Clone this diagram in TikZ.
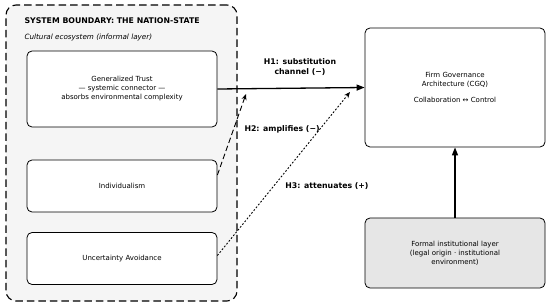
\documentclass[tikz,border=0pt]{standalone}
\usepackage{fontspec}
\setmainfont{DejaVu Sans}
\usetikzlibrary{positioning,arrows.meta,calc}
\definecolor{fondo}{RGB}{245,245,245}
\definecolor{formal}{RGB}{230,230,230}

\begin{document}
\begin{tikzpicture}[x=1pt, y=-1pt,
  caja/.style={draw, line width=0.8pt, rounded corners=5pt, fill=#1,
               align=center, font=\fontsize{7}{9}\selectfont},
  caja/.default=white,
  etiq/.style={font=\fontsize{7.8}{9.5}\selectfont\bfseries, align=center},
  flecha/.style={line width=1.3pt, -{Triangle[length=8pt, width=6pt]}}]
  \useasboundingbox (0,0) rectangle (550,305);
  \node[draw, dash pattern=on 7.5pt off 4pt, line width=1.1pt,
        rounded corners=10pt, fill=fondo, minimum width=231pt,
        minimum height=296pt] (frontera) at (121.5,153) {};
  \node[font=\fontsize{7.8}{9}\selectfont\bfseries, anchor=west] (titulo) at (21,21)
     {SYSTEM BOUNDARY: THE NATION-STATE};
  \node[font=\fontsize{7.2}{9}\selectfont\itshape, anchor=west] (sub) at (21,38)
     {Cultural ecosystem (informal layer)};
  \node[caja, minimum width=190pt, minimum height=76pt] (conf) at (122,89)
     {Generalized Trust\\— systemic connector —\\absorbs environmental complexity};
  \node[caja, minimum width=190pt, minimum height=52pt] (indiv) at (122,186)
     {Individualism};
  \node[caja, minimum width=190pt, minimum height=52pt] (incert) at (122,258.5)
     {Uncertainty Avoidance};
  \node[caja, minimum width=180pt, minimum height=119pt] (firma) at (455,87.5)
     {Firm Governance\\Architecture (CGQ)\\[7pt]Collaboration ↔ Control};
  \node[caja=formal, minimum width=180pt, minimum height=70pt] (inst) at (455,253)
     {Formal institutional layer\\(legal origin · institutional\\environment)};
  \coordinate (finH2) at (246,94);
  \coordinate (finH3) at (350,92);
  \draw[flecha] (conf.east) -- (firma.west);
  \draw[line width=0.9pt, dash pattern=on 5.5pt off 3pt, -{Stealth[length=6pt, width=5pt]}]
     ([yshift=11pt]indiv.east) -- (finH2);
  \draw[line width=0.9pt, dash pattern=on 1.8pt off 1.8pt, -{Stealth[length=6pt, width=5pt]}]
     ([yshift=3pt]incert.east) -- (finH3);
  \draw[flecha] (inst.north) -- (firma.south);
  \node[etiq] (lh1) at (300,67) {H1: substitution\\channel (−)};
  \node[etiq, anchor=west] (lh2) at (241,129) {H2: amplifies (−)};
  \node[etiq] (lh3) at (327,186) {H3: attenuates (+)};
\end{tikzpicture}
\end{document}
